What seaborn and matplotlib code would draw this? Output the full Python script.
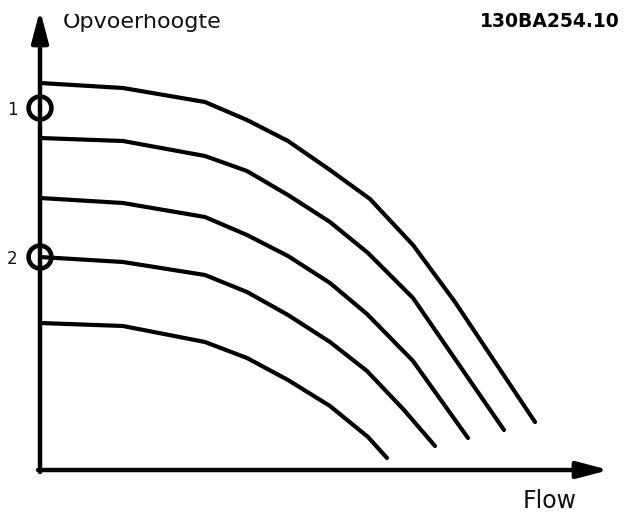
import matplotlib
matplotlib.use("Agg")
import matplotlib.pyplot as plt
from matplotlib.transforms import Bbox
import pandas as pd
import seaborn as sns

# Pump head curves (flow, head) for five speeds, highest speed first
flow_1 = [0, 83, 165, 207, 248, 290, 330, 373, 415, 495]
head_1 = [387, 382, 368, 350, 329, 300, 271, 225, 168, 48]

flow_2 = [0, 83, 165, 207, 248, 290, 328, 373, 464]
head_2 = [332, 329, 314, 299, 275, 248, 217, 172, 40]

flow_3 = [0, 83, 165, 207, 248, 290, 327, 373, 428]
head_3 = [272, 267, 253, 235, 214, 187, 156, 109, 32]

flow_4 = [0, 83, 165, 207, 248, 290, 327, 364, 395]
head_4 = [213, 208, 195, 178, 155, 128, 99, 60, 24]

flow_5 = [0, 83, 165, 207, 248, 290, 328, 347]
head_5 = [147, 144, 128, 112, 90, 64, 33, 12]

# Operating points marked on the head axis
point_labels = ["1", "2"]
point_flow = [0, 0]
point_head = [362, 213]

x_label = "Flow"
y_label = "Opvoerhoogte"
drawing_id = "130BA254.10"

curves = [(flow_1, head_1), (flow_2, head_2), (flow_3, head_3),
          (flow_4, head_4), (flow_5, head_5)]
rows = []
for i, (fl, hd) in enumerate(curves):
    for f, h in zip(fl, hd):
        rows.append({"curve": i, "flow": f, "head": h})
df = pd.DataFrame(rows)

sns.set_style("white")
plt.rcParams["font.family"] = ["DejaVu Sans"]

fig = plt.figure(figsize=(6.24, 5.12), dpi=100)
ax = fig.add_axes([0, 0, 1, 1])
ax.set_xlim(-40, 584)
ax.set_ylim(-42, 470)
ax.axis("off")

sns.lineplot(data=df, x="flow", y="head", units="curve", estimator=None,
             sort=False, color="black", linewidth=3.0, ax=ax, legend=False,
             solid_joinstyle="round", solid_capstyle="round")

# Axes drawn as arrows
arrow_kw = dict(arrowstyle="-|>,head_length=1.9,head_width=0.5",
                mutation_scale=10, lw=3.2, color="black",
                shrinkA=0, shrinkB=0)
ax.annotate("", xy=(0, 460), xytext=(0, -2), arrowprops=arrow_kw)
ax.annotate("", xy=(569, 0), xytext=(-2, 0), arrowprops=arrow_kw)

sns.scatterplot(x=point_flow, y=point_head, ax=ax, s=270, marker="o",
                facecolors="none", edgecolor="black", linewidth=3.3,
                zorder=5, legend=False)
for lab, y in zip(point_labels, point_head):
    ax.text(-28, y - 7, lab, ha="center", va="baseline",
            fontsize=12, color="#111111")

top_clip = Bbox.from_extents(0, 0, 624, 512 - 14)
t1 = ax.text(23, 442, y_label, ha="left", va="baseline",
             fontsize=16, color="#111111")
t1.set_clip_on(True)
t1.set_clip_box(top_clip)

ax.text(440, 443, drawing_id, ha="left", va="baseline",
        fontsize=13.5, fontweight="bold", color="black")

ax.text(483, -38, x_label, ha="left", va="baseline",
        fontsize=17, color="#111111")

fig.savefig("out.png", dpi=100)
